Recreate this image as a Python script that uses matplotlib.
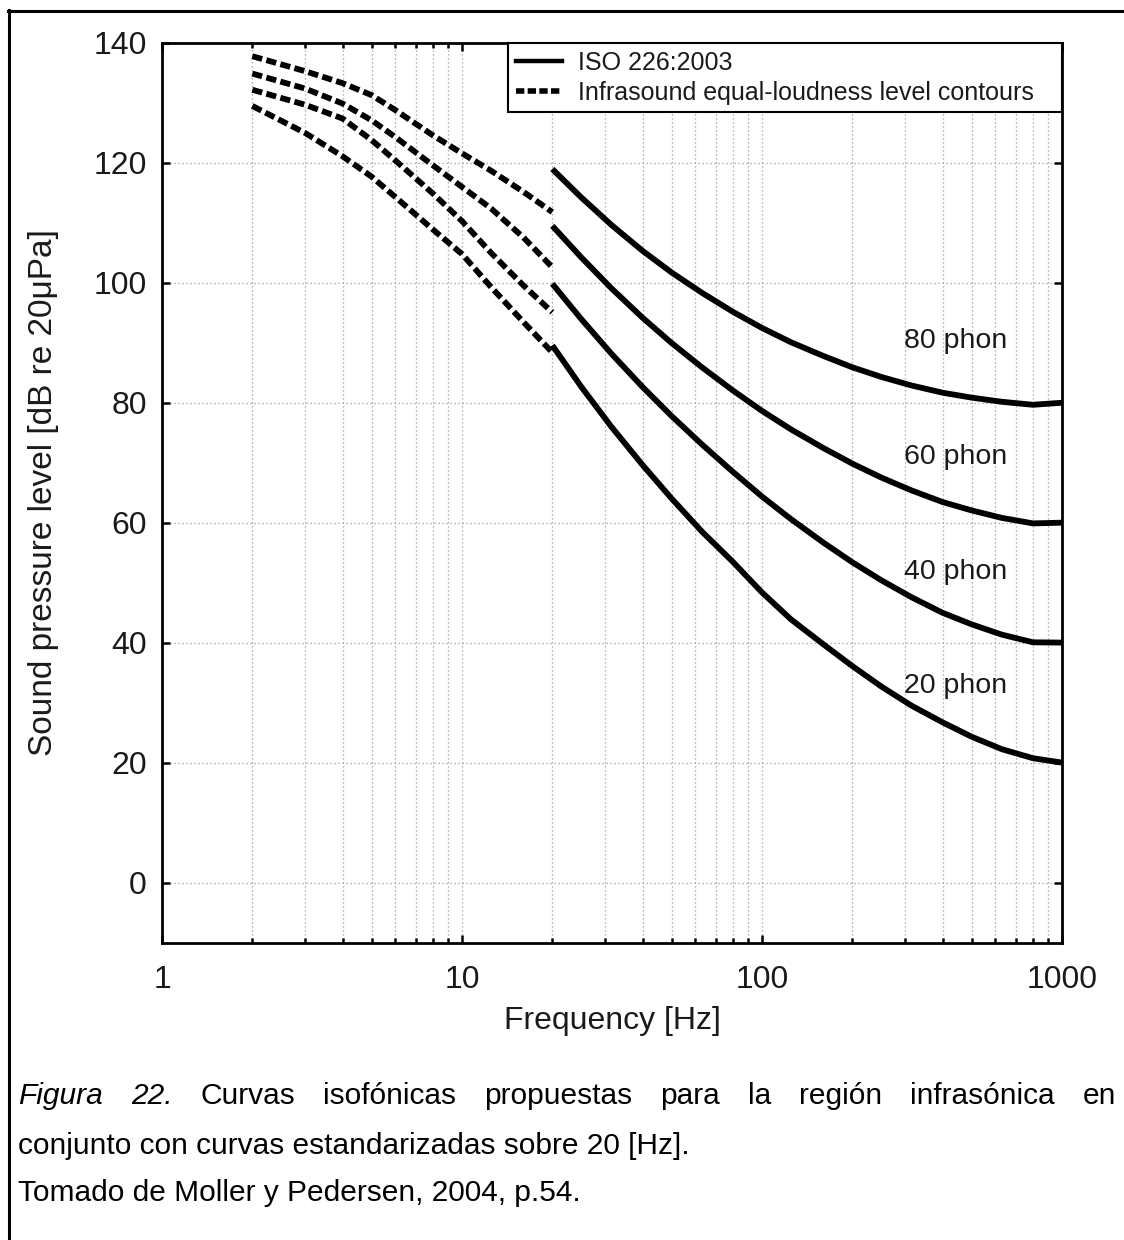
import matplotlib
matplotlib.use("Agg")
import matplotlib.pyplot as plt
from matplotlib.ticker import LogLocator, NullFormatter
from matplotlib.lines import Line2D

plt.rcParams['font.family'] = ['Liberation Sans', 'DejaVu Sans']

# ISO 226:2003 equal-loudness contours (20 Hz - 1 kHz)
iso_freq = [20, 25, 31.5, 40, 50, 63, 80, 100, 125, 160, 200, 250,
            315, 400, 500, 630, 800, 1000]
iso_20 = [89.58, 82.65, 75.98, 69.62, 64.02, 58.55, 53.47, 48.38, 43.87,
          39.74, 36.10, 32.68, 29.50, 26.71, 24.31, 22.24, 20.73, 20.00]
iso_40 = [99.85, 93.94, 88.17, 82.63, 77.78, 73.08, 68.48, 64.37, 60.59,
          56.70, 53.41, 50.40, 47.58, 44.98, 43.05, 41.34, 40.06, 40.01]
iso_60 = [109.51, 104.23, 99.08, 94.18, 89.96, 85.94, 82.05, 78.65, 75.56,
          72.47, 69.86, 67.53, 65.39, 63.45, 62.05, 60.81, 59.89, 60.01]
iso_80 = [118.99, 114.23, 109.65, 105.34, 101.72, 98.36, 95.17, 92.48, 90.09,
          87.82, 85.92, 84.31, 82.89, 81.68, 80.86, 80.17, 79.67, 80.01]

# Infrasound equal-loudness level contours (2 - 20 Hz)
inf_freq = [2, 3, 4, 5, 6, 8, 10, 12.5, 16, 20]
inf_a = [137.8, 135.3, 133.3, 131.3, 128.8, 124.6, 121.6, 118.7, 115.2, 111.8]
inf_b = [134.9, 132.4, 129.9, 127.1, 124.3, 119.6, 116.0, 112.4, 107.6, 102.6]
inf_c = [132.2, 129.7, 127.4, 123.8, 120.4, 114.9, 110.3, 105.0, 99.6, 95.1]
inf_d = [129.5, 125.0, 121.1, 117.7, 114.3, 108.9, 104.8, 99.3, 93.5, 88.4]

phon_labels = ['20 phon', '40 phon', '60 phon', '80 phon']
phon_label_y = [32.7, 51.8, 71.0, 90.3]

xtick_vals = [1, 10, 100, 1000]
xtick_labels = ['1', '10', '100', '1000']
ytick_vals = [0, 20, 40, 60, 80, 100, 120, 140]

W, H = 1124, 1240
fig = plt.figure(figsize=(W / 100, H / 100), dpi=100)
fig.patch.set_facecolor('white')

ax = fig.add_axes([162 / W, 1 - 942.5 / H, 900 / W, 899.5 / H])
ax.set_xscale('log')
ax.set_xlim(1, 1000)
ax.set_ylim(-10, 140)

lw = 4.2
for ys in (iso_20, iso_40, iso_60, iso_80):
    ax.plot(iso_freq, ys, color='black', lw=lw, solid_capstyle='butt',
            solid_joinstyle='round', zorder=3)
for ys in (inf_a, inf_b, inf_c, inf_d):
    ax.plot(inf_freq, ys, color='black', lw=lw, dashes=(1.75, 0.75),
            dash_capstyle='butt', zorder=3)

for lab, yv in zip(phon_labels, phon_label_y):
    ax.text(297, yv, lab, fontsize=20.5, color='#1a1a1a', ha='left',
            va='center', zorder=4)

# axes styling
ax.set_xticks(xtick_vals, labels=xtick_labels)
ax.xaxis.set_minor_locator(LogLocator(base=10, subs=range(2, 10), numticks=20))
ax.xaxis.set_minor_formatter(NullFormatter())
ax.set_yticks(ytick_vals)
for s in ax.spines.values():
    s.set_linewidth(2.0)
ax.tick_params(which='both', direction='in', top=True, right=True,
               colors='black', width=1.8, labelsize=23, labelcolor='#1a1a1a')
ax.tick_params(which='major', length=6)
ax.tick_params(which='minor', length=3.5)
ax.tick_params(axis='x', which='major', pad=16)
ax.tick_params(axis='y', which='major', pad=11)

grid_kw = dict(color='#999999', lw=0.9, dashes=(1, 2.2))
ax.grid(True, which='major', axis='both', **grid_kw)
ax.grid(True, which='minor', axis='x', **grid_kw)
ax.set_axisbelow(True)

ax.set_xlabel('Frequency [Hz]', fontsize=23, color='#1a1a1a', labelpad=8)
ax.set_ylabel('Sound pressure level [dB re 20\u03bcPa]', fontsize=24,
              color='#1a1a1a', labelpad=25)

handles = [Line2D([], [], color='black', lw=3.2),
           Line2D([], [], color='black', lw=4.0, dashes=(1.5, 0.6),
                  dash_capstyle='butt')]
leg_x0 = (508 - 162) / 900
leg = ax.legend(handles, ['ISO 226:2003',
                          'Infrasound equal-loudness level contours'],
                loc='upper right', bbox_to_anchor=(leg_x0, 0, 1 - leg_x0, 1),
                mode='expand', borderaxespad=0, fontsize=18,
                frameon=True, fancybox=False, framealpha=1,
                edgecolor='black', handlelength=1.85, handletextpad=0.65,
                borderpad=0.3, labelspacing=0.25)
leg.get_frame().set_linewidth(1.5)
for t in leg.get_texts():
    t.set_color('#1a1a1a')

# page border (left and top rules)
fig.add_artist(Line2D([8.5 / W, 8.5 / W], [0, 1 - 10 / H], color='black',
                      lw=2.2, transform=fig.transFigure))
fig.add_artist(Line2D([7.5 / W, 1], [1 - 11 / H, 1 - 11 / H], color='black',
                      lw=2.2, transform=fig.transFigure))

# caption, first line justified between the margins
cap_size = 21.5
line1_words = ['Figura', '22.', 'Curvas', 'isofónicas', 'propuestas', 'para',
               'la', 'región', 'infrasónica', 'en']
italic_words = 2
x_left, x_right = 18, 1116
base_y = [1104, 1154, 1201]

texts = []
for i, w in enumerate(line1_words):
    t = fig.text(0, 1 - base_y[0] / H, w, fontsize=cap_size, color='black',
                 style='italic' if i < italic_words else 'normal',
                 ha='left', va='baseline')
    texts.append(t)
fig.canvas.draw()
renderer = fig.canvas.get_renderer()
widths = [t.get_window_extent(renderer).width for t in texts]
gap = (x_right - x_left - sum(widths)) / (len(texts) - 1)
xpos = x_left
for t, wd in zip(texts, widths):
    t.set_x(xpos / W)
    xpos += wd + gap

fig.text(x_left / W, 1 - base_y[1] / H,
         'conjunto con curvas estandarizadas sobre 20 [Hz].',
         fontsize=cap_size, color='black', ha='left', va='baseline')
fig.text(x_left / W, 1 - base_y[2] / H,
         'Tomado de Moller y Pedersen, 2004, p.54.',
         fontsize=cap_size, color='black', ha='left', va='baseline')

fig.savefig('out.png', dpi=100, facecolor='white')
